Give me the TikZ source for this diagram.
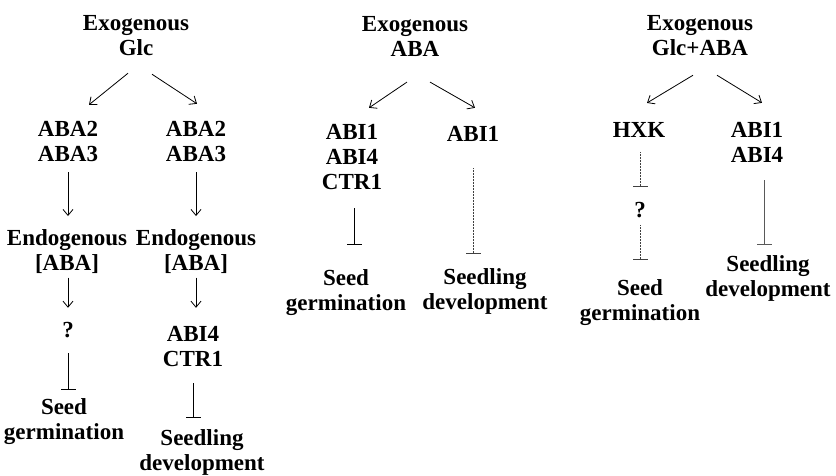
\documentclass[tikz,border=0pt]{standalone}
\usepackage{fontspec}
\setmainfont{Liberation Serif}
\usetikzlibrary{arrows.meta}
\tikzset{
  txt/.style={font=\bfseries\fontsize{23}{25}\selectfont,align=center,inner sep=0pt,outer sep=0pt,anchor=base},
  act/.style={-{Straight Barb[length=6pt,width=10pt]},line width=0.8pt,draw=black},
  inhib/.style={-{Bar[width=15pt]},line width=0.8pt,draw=black},
  inhibdot/.style={inhib,draw=black!75,dash pattern=on 0.8pt off 0.7pt},
  inhibgrey/.style={inhib,draw=black!65}
}
\begin{document}
\begin{tikzpicture}[x=1pt,y=-1pt]
\useasboundingbox (0,0) rectangle (836,475);

% exogenous Glc
\node[txt] (exoglc) at (136,55) {Exogenous\\Glc};
\node[txt] (aba2l) at (68,161) {ABA2\\ABA3};
\node[txt] (aba2r) at (196,161) {ABA2\\ABA3};
\node[txt] (endol) at (67,270) {Endogenous\\{[ABA]}};
\node[txt] (endor) at (196,270) {Endogenous\\{[ABA]}};
\node[txt] (quesl) at (68,337) {?};
\node[txt] (abi4r) at (193,366) {ABI4\\CTR1};
\node[txt] (seedl) at (64,439) {Seed\\germination};
\node[txt] (seedlingr) at (202,470) {Seedling\\development};

% exogenous ABA
\node[txt] (exoaba) at (415,56) {Exogenous\\ABA};
\node[txt] (abi1l) at (352,189) {ABI1\\ABI4\\CTR1};
\node[txt] (abi1r) at (473,141) {ABI1};
\node[txt] (seedm) at (346,310) {Seed\\germination};
\node[txt] (seedlingm) at (485,309) {Seedling\\development};

% exogenous Glc+ABA
\node[txt] (exoboth) at (700,55) {Exogenous\\Glc+ABA};
\node[txt] (hxk) at (639,137) {HXK};
\node[txt] (abi1t) at (757,162) {ABI1\\ABI4};
\node[txt] (quest) at (640,217) {?};
\node[txt] (seedt) at (640,320) {Seed\\germination};
\node[txt] (seedlingt) at (768,296) {Seedling\\development};

\draw[act] ([xshift=-8pt,yshift=-18pt]exoglc.south) -- ([xshift=21pt,yshift=16pt]aba2l.north);
\draw[act] ([xshift=16pt,yshift=-19pt]exoglc.south) -- ([xshift=1pt,yshift=17pt]aba2r.north);
\draw[act,shorten <=11pt,shorten >=13pt] (aba2l.south) -- (aba2l.south |- endol.north);
\draw[act,shorten <=11pt,shorten >=13pt] (aba2r.south) -- (aba2r.south |- endor.north);
\draw[act,shorten <=4.5pt,shorten >=14pt] (quesl.north |- endol.south) -- (quesl.north);
\draw[act,shorten <=4.5pt,shorten >=18pt] (endor.south) -- (endor.south |- abi4r.north);
\draw[inhib,shorten <=16pt,shorten >=8pt] (quesl.south) -- (quesl.south |- seedl.north);
\draw[inhib,shorten <=17pt,shorten >=11pt] (abi4r.south) -- (abi4r.south |- seedlingr.north);

\draw[act] ([xshift=-8pt,yshift=-26pt]exoaba.south) -- ([xshift=17pt,yshift=16pt]abi1l.north);
\draw[act] ([xshift=15pt,yshift=-26pt]exoaba.south) -- ([xshift=2pt,yshift=18pt]abi1r.north);
\draw[inhib,shorten <=19pt,shorten >=24pt] ([xshift=2pt]abi1l.south) -- ([xshift=2pt]abi1l.south |- seedm.north);
\draw[inhibdot,shorten <=27pt,shorten >=14pt] (abi1r.south) -- (abi1r.south |- seedlingm.north);

\draw[act] ([xshift=-7pt,yshift=-20pt]exoboth.south) -- ([xshift=8pt,yshift=19pt]hxk.north);
\draw[act] ([xshift=17pt,yshift=-20pt]exoboth.south) -- ([xshift=5pt,yshift=19pt]abi1t.north);
\draw[inhibdot,shorten <=15pt,shorten >=15pt] (quest.north |- hxk.south) -- (quest.north);
\draw[inhibdot,shorten <=8pt,shorten >=19pt] (quest.south) -- (quest.south |- seedt.north);
\draw[inhibgrey,shorten <=18pt,shorten >=10pt] ([xshift=7pt]abi1t.south) -- ([xshift=7pt]abi1t.south |- seedlingt.north);
\end{tikzpicture}
\end{document}
